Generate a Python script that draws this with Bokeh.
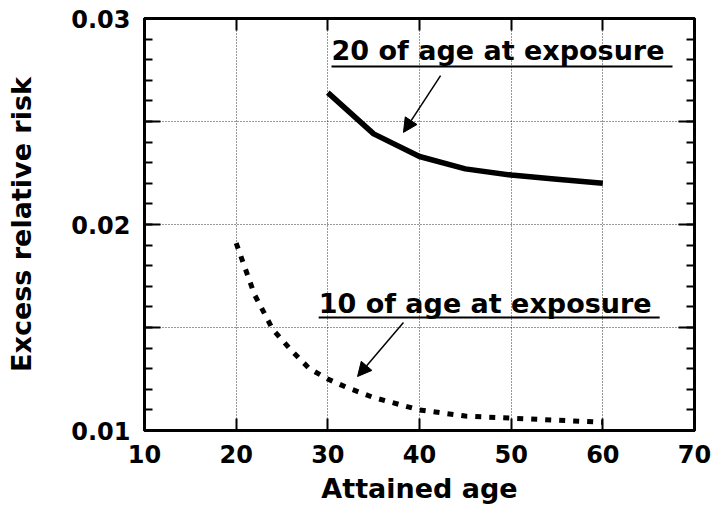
from bokeh.plotting import figure
from bokeh.models import (Range1d, FixedTicker, LinearAxis, CustomJSTickFormatter,
                          Label, Arrow, NormalHead, ColumnDataSource)
from bokeh.embed import file_html
from bokeh.resources import INLINE

# ---- data ----
age_exp20 = [30, 35, 40, 45, 50, 55, 60]
err_exp20 = [0.0264, 0.0244, 0.0233, 0.0227, 0.0224, 0.0222, 0.0220]

age_exp10 = [20, 22, 24, 26, 28, 30, 32, 35, 40, 45, 50, 55, 60]
err_exp10 = [0.0191, 0.0166, 0.0149, 0.0139, 0.0130, 0.0125, 0.0121,
             0.0116, 0.0110, 0.0107, 0.0106, 0.0105, 0.0104]

x_ticks = [10, 20, 30, 40, 50, 60, 70]
y_major = [0.01, 0.015, 0.02, 0.025, 0.03]
y_minor = [round(0.01 + 0.001 * i, 3) for i in range(21)]

label20 = "20 of age at exposure"
label10 = "10 of age at exposure"

FONT = "DejaVu Sans"

p = figure(width=711, height=510, output_backend="svg", toolbar_location=None,
           x_range=Range1d(10, 70), y_range=Range1d(0.01, 0.03),
           min_border_left=144, min_border_right=17, min_border_top=18, min_border_bottom=80,
           background_fill_color="white", border_fill_color="white")

p.outline_line_color = "black"
p.outline_line_width = 3
p.outline_line_alpha = 1

ylab_fmt = CustomJSTickFormatter(code="var r = Math.round(tick*1000); return (r % 10 == 0) ? tick.toFixed(2) : '';")
empty_fmt = CustomJSTickFormatter(code="return '';")

def style_axis(ax, ticker, tin, minor_in, fmt):
    ax.ticker = ticker
    ax.formatter = fmt
    ax.axis_line_width = 3
    ax.axis_line_color = "black"
    ax.major_tick_in = tin
    ax.major_tick_out = 0
    ax.minor_tick_in = minor_in
    ax.minor_tick_out = 0
    ax.major_tick_line_width = 2
    ax.minor_tick_line_width = 2
    ax.major_tick_line_color = "black"
    ax.minor_tick_line_color = "black"
    ax.major_label_text_font = FONT
    ax.major_label_text_font_style = "bold"
    ax.major_label_text_font_size = "24px"
    ax.major_label_text_color = "black"

xt = FixedTicker(ticks=x_ticks, minor_ticks=[])
yt = FixedTicker(ticks=y_major, minor_ticks=y_minor)

style_axis(p.xaxis[0], xt, 12, 0, CustomJSTickFormatter(code="return tick.toFixed(0);"))
p.xaxis[0].major_label_standoff = 14
p.xaxis[0].axis_label = "Attained age"
p.xaxis[0].axis_label_standoff = 7

style_axis(p.yaxis[0], yt, 16, 8, ylab_fmt)
p.yaxis[0].major_label_standoff = 14
p.yaxis[0].axis_label = "Excess relative risk"
p.yaxis[0].axis_label_standoff = 31

for ax in (p.xaxis[0], p.yaxis[0]):
    ax.axis_label_text_font = FONT
    ax.axis_label_text_font_style = "bold"
    ax.axis_label_text_font_size = "27px"
    ax.axis_label_text_color = "black"

top = LinearAxis()
style_axis(top, FixedTicker(ticks=x_ticks, minor_ticks=[]), 12, 0, empty_fmt)
top.major_label_standoff = 0
p.add_layout(top, "above")

right = LinearAxis()
style_axis(right, FixedTicker(ticks=y_major, minor_ticks=y_minor), 16, 8, empty_fmt)
right.major_label_standoff = 0
p.add_layout(right, "right")

# grid
p.xgrid.ticker = FixedTicker(ticks=[20, 30, 40, 50, 60])
p.ygrid.ticker = FixedTicker(ticks=[0.015, 0.02, 0.025])
for g in (p.xgrid[0], p.ygrid[0]):
    g.grid_line_color = "black"
    g.grid_line_alpha = 0.8
    g.grid_line_width = 1
    g.grid_line_dash = "1 2"

# curves
p.line(age_exp20, err_exp20, line_color="black", line_width=5.5, line_join="round")
p.line(age_exp10, err_exp10, line_color="black", line_width=5, line_dash="6 8", line_cap="butt")

# annotations
ann = dict(text_font=FONT, text_font_style="bold", text_font_size="27px",
           text_color="black", text_baseline="alphabetic", text_align="left")
p.add_layout(Label(x=30.4, y=0.02844, text=label20, **ann))
p.add_layout(Label(x=29.0, y=0.01616, text=label10, **ann))

ul = ColumnDataSource(dict(x0=[30.4, 29.0], x1=[67.6, 66.2], y0=[0.02767, 0.01549], y1=[0.02767, 0.01549]))
p.segment("x0", "y0", "x1", "y1", source=ul, line_color="black", line_width=2)

for (xs, ys, xe, ye) in [(42.3, 0.02723, 38.25, 0.02447), (38.25, 0.01524, 33.24, 0.01262)]:
    p.add_layout(Arrow(x_start=xs, y_start=ys, x_end=xe, y_end=ye, line_color="black", line_width=1.5,
                       end=NormalHead(size=14, fill_color="black", line_color="black")))

open("out.html", "w").write(file_html(p, INLINE))
